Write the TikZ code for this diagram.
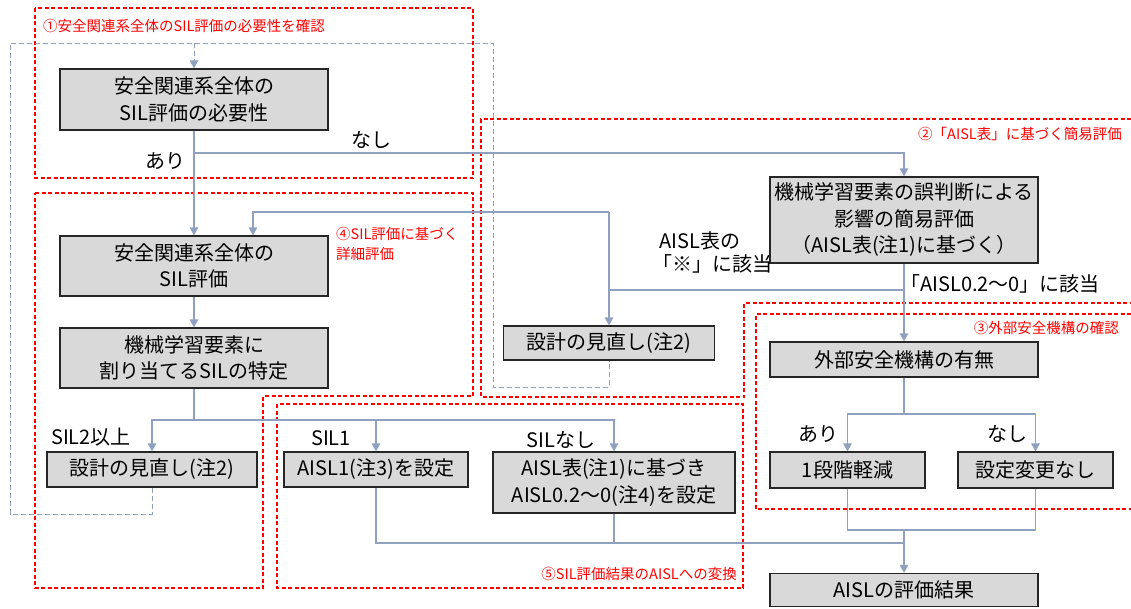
\documentclass[tikz,border=0pt]{standalone}
\usepackage{fontspec}
\setmainfont{Noto Sans CJK JP}
\usetikzlibrary{arrows.meta}
\definecolor{connc}{RGB}{143,161,191}
\definecolor{boxfill}{RGB}{217,217,217}
\begin{document}
\begin{tikzpicture}[x=1pt,y=-1pt,
  box/.style={draw=black!85,line width=1.2pt,fill=boxfill,inner sep=0pt,align=center,font=\fontsize{20}{26.5}\selectfont},
  lbl/.style={inner sep=0pt,font=\fontsize{20}{23}\selectfont},
  redlbl/.style={inner sep=0pt,text=red,font=\fontsize{14.5}{19.5}\selectfont},
  conn/.style={draw=connc,line width=1.4pt},
  arr/.style={conn,-{Triangle[length=8pt,width=8.5pt]}},
  redbox/.style={draw=red,line width=1.2pt,dash pattern=on 4pt off 2.5pt},
  loopl/.style={draw=connc,line width=1pt,dash pattern=on 5pt off 3pt},
]
\useasboundingbox (0,0) rectangle (1131,608);

% red dashed group frames
\draw[redbox] (35,8) rectangle (473,178);
\draw[redbox] (35,193) -- (473,193) -- (473,396) -- (263,396) -- (263,588) -- (35,588) -- cycle;
\draw[redbox] (1131,119) -- (481,119) -- (481,397) -- (744,397) -- (744,303) -- (1131,303);
\draw[redbox] (1131,314) -- (756,314) -- (756,509) -- (1131,509);
\draw[redbox] (277,404) rectangle (743,588);

\node[redlbl,anchor=west] (r1) at (43,26) {①安全関連系全体のSIL評価の必要性を確認};
\node[redlbl,anchor=east] (r2) at (1122,134) {②「AISL表」に基づく簡易評価};
\node[redlbl,anchor=east] (r3) at (1119,328) {③外部安全機構の確認};
\node[redlbl,anchor=west,align=left] (r4) at (336,244) {④SIL評価に基づく\\詳細評価};
\node[redlbl,anchor=east] (r5) at (737,574) {⑤SIL評価結果のAISLへの変換};

% boxes
\node[box,minimum width=268pt,minimum height=61pt] (A) at (194,99.5) {安全関連系全体の\\SIL評価の必要性};
\node[box,minimum width=268pt,minimum height=60pt] (B) at (194,266) {安全関連系全体の\\SIL評価};
\node[box,minimum width=268pt,minimum height=60pt] (H) at (194,358) {機械学習要素に\\割り当てるSILの特定};
\node[box,minimum width=210pt,minimum height=35pt] (I) at (152,469.5) {設計の見直し(注2)};
\node[box,minimum width=184pt,minimum height=35pt] (J) at (376,469.5) {AISL1(注3)を設定};
\node[box,minimum width=242pt,minimum height=61pt] (K) at (614,482.5) {AISL表(注1)に基づき\\AISL0.2〜0(注4)を設定};
\node[box,minimum width=268pt,minimum height=86pt] (C) at (904,220) {機械学習要素の誤判断による\\影響の簡易評価\\（AISL表(注1)に基づく）};
\node[box,minimum width=211pt,minimum height=34pt] (R) at (609,343) {設計の見直し(注2)};
\node[box,minimum width=268pt,minimum height=35pt] (D) at (904,359.5) {外部安全機構の有無};
\node[box,minimum width=155pt,minimum height=36pt] (E) at (847.5,470) {1段階軽減};
\node[box,minimum width=155pt,minimum height=36pt] (F) at (1035.5,470) {設定変更なし};
\node[box,minimum width=268pt,minimum height=33pt] (G) at (904,590) {AISLの評価結果};

% labels
\node[lbl] (lNasi1) at (371,140) {なし};
\node[lbl] (lAri1) at (165,161) {あり};
\node[lbl,anchor=west,align=left] (lKome) at (659,252) {AISL表の\\\hspace*{-0.35em}「※」に該当};
\node[lbl,anchor=west] (lAisl) at (900,284) {「AISL0.2〜0」に該当};
\node[lbl] (lSil2) at (91,437) {SIL2以上};
\node[lbl] (lSil1) at (331,438) {SIL1};
\node[lbl] (lSilN) at (561,440) {SILなし};
\node[lbl] (lAri2) at (818,434) {あり};
\node[lbl] (lNasi2) at (1007,434) {なし};

% coordinates
\coordinate (nasiTurn) at (904,153);
\coordinate (loopR) at (609,212);
\coordinate (loopB) at (253,212);
\coordinate (jRow) at (609,290);
\coordinate (hsplit) at (194,420);
\coordinate (dsplit) at (904,414);
\coordinate (efm) at (904,530);
\coordinate (jkm) at (904,543);
\coordinate (lpTop) at (194,43);
\coordinate (lpL) at (10,514);
\coordinate (lpTL) at (10,43);
\coordinate (lpTR) at (493,43);
\coordinate (lpBR) at (493,387);

% gray dashed feedback loop
\draw[loopl] (I.south) |- (lpL) -- (lpTL) -- (lpTR) -- (lpBR) -| (R.south);
\draw[loopl,-{Triangle[length=8pt,width=8.5pt]},fill=connc] (lpTop) -- (A.north);

% connectors
\draw[arr] (A.south) -- (B.north);
\draw[arr] (A.south |- nasiTurn) -- (nasiTurn) -- (C.north);
\draw[arr] (B.south) -- (H.north);
\draw[conn] (H.south) -- (hsplit);
\draw[arr] (hsplit) -| (I.north);
\draw[arr] (hsplit) -| (K.north);
\draw[arr] (J.north |- hsplit) -- (J.north);
\draw[arr] (C.south) -- (D.north);
\draw[conn] (C.south |- jRow) -- (jRow);
\draw[arr] (loopR) -- (R.north);
\draw[arr] (loopR) -- (loopB) -- (loopB |- B.north);
\draw[conn] (D.south) -- (dsplit);
\draw[arr] (dsplit) -| (E.north);
\draw[arr] (dsplit) -| (F.north);
\draw[conn] (E.south) |- (efm) -| (F.south);
\draw[arr] (efm) -- (G.north);
\draw[conn] (J.south) |- (jkm);
\draw[conn] (K.south) -- (K.south |- jkm);
\end{tikzpicture}
\end{document}
